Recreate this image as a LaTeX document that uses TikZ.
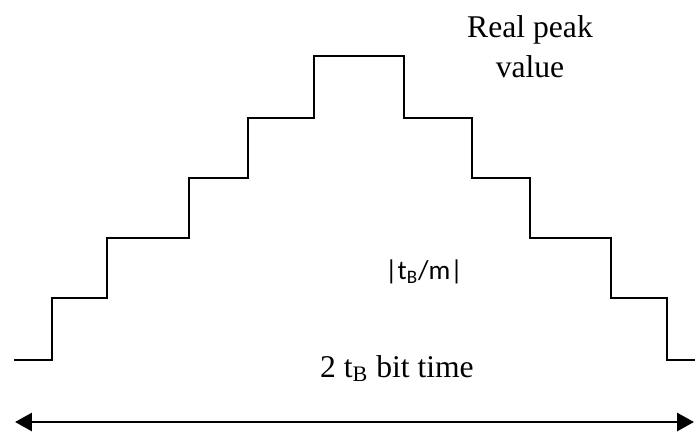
\documentclass[tikz,border=0pt]{standalone}
\usepackage{fontspec}
\setmainfont{Liberation Serif}
\newfontfamily\calfont{Carlito}
\usetikzlibrary{arrows.meta}

\begin{document}
\begin{tikzpicture}[x=0.02cm,y=-0.02cm,>={Triangle[length=0.34cm,width=0.36cm]},
  stair/.style={line width=1.1pt,line join=miter},
  txt/.style={inner sep=0pt,font=\fontsize{18}{22.8}\selectfont}]
\useasboundingbox (0,0) rectangle (695,432);
% staircase pulse
\draw[stair] (14,360) -| (52,298) -| (107,238) -| (189,178) -| (248,118) -| (314,56)
  -| (404,118) -| (472,178) -| (530,238) -| (611,298) -| (667,360) -- (697,360);
\node[txt,align=center] (peak) at (530,47) {Real peak\\value};
\node[inner sep=0pt,font=\calfont\fontsize{15.5}{19}\selectfont] (slot) at (424,272) {|t\textsubscript{B}/m|};
\node[txt,anchor=base] (span) at (397,377) {2 t\textsubscript{B} bit time};
% bit time arrow
\coordinate (L) at (15,422);
\coordinate (R) at (694,422);
\draw[<->,line width=1.7pt] (L) -- (R);
\end{tikzpicture}
\end{document}
